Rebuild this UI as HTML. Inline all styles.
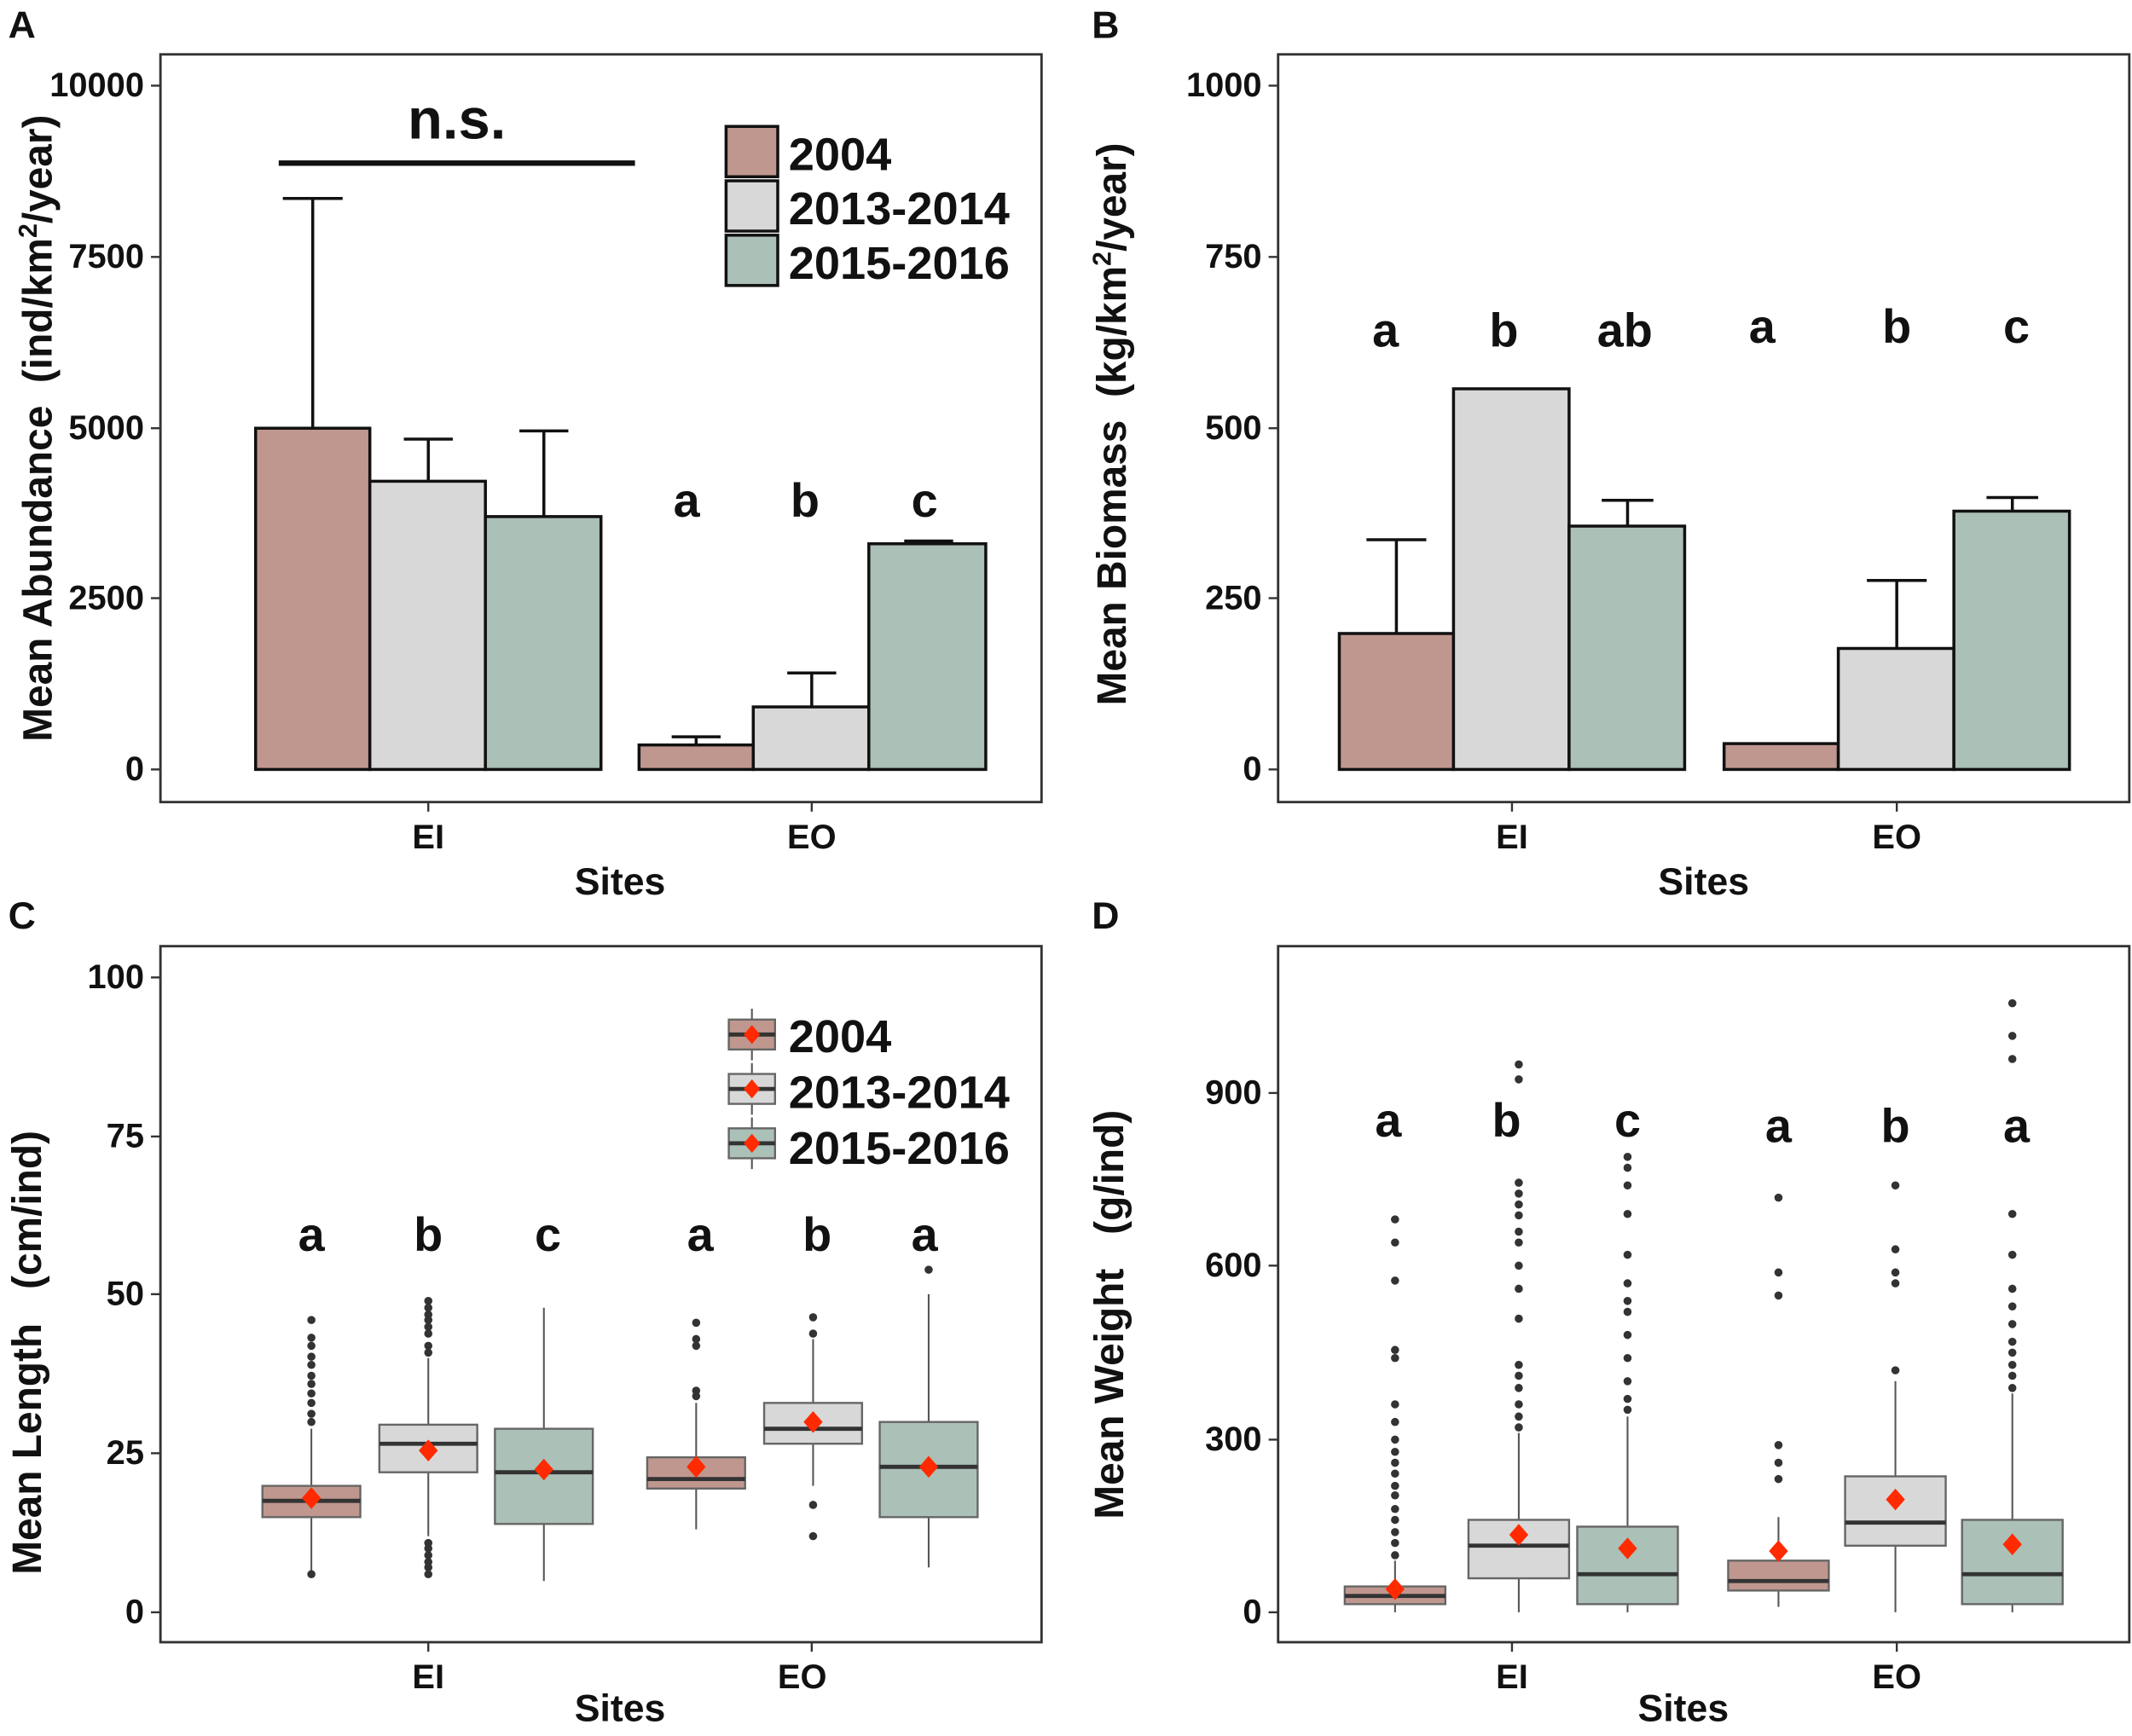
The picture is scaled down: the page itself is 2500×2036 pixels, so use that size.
<!DOCTYPE html>
<html><head><meta charset="utf-8"><style>
html,body{margin:0;padding:0;background:#fff}
svg{display:block}
text{font-family:"Liberation Sans",Arial,sans-serif;font-weight:bold;fill:#111;white-space:pre}
.tk{font-size:25px;font-family:"Liberation Sans Narrow","Liberation Sans",Arial,sans-serif}
.lt{font-size:35px}
.ax{font-size:30px}
.st{font-size:28px}
.lg{font-size:34px}
.frame{fill:none;stroke:#333;stroke-width:1.8}
.bar{stroke:#111;stroke-width:2.2}
.eb{stroke:#111;stroke-width:2.2;fill:none}
.bx{stroke:#666;stroke-width:1.5}
.md{stroke:#333;stroke-width:3}
.wh{stroke:#555;stroke-width:1.3}
.o{fill:#333}
.mn{fill:#ff2a00}
</style></head><body>
<svg width="2500" height="2036" viewBox="0 0 1568 1277" preserveAspectRatio="none" xmlns="http://www.w3.org/2000/svg" xml:space="preserve">
<rect width="1568" height="1277" fill="#fff"/>

<!-- ===== Panel A ===== -->
<text x="6" y="28" style="font-size:28px">A</text>
<rect class="frame" x="118" y="40" width="648" height="550"/>
<g stroke="#333" stroke-width="1.5">
<line x1="111" y1="566" x2="118" y2="566"/><line x1="111" y1="440" x2="118" y2="440"/>
<line x1="111" y1="315" x2="118" y2="315"/><line x1="111" y1="189" x2="118" y2="189"/>
<line x1="111" y1="63" x2="118" y2="63"/>
<line x1="315" y1="590" x2="315" y2="597"/><line x1="597" y1="590" x2="597" y2="597"/>
</g>
<g class="tk" text-anchor="end">
<text x="106" y="574">0</text><text x="106" y="448">2500</text><text x="106" y="323">5000</text>
<text x="106" y="197">7500</text><text x="106" y="71">10000</text>
</g>
<g class="tk" text-anchor="middle"><text x="315" y="624">EI</text><text x="597" y="624">EO</text></g>
<text class="st" x="456" y="658" text-anchor="middle">Sites</text>
<text class="ax" transform="translate(38,315) rotate(-90)" text-anchor="middle">Mean Abundance  (ind/km<tspan dy="-11" style="font-size:19px">2</tspan><tspan dy="11">/year)</tspan></text>
<g class="eb">
<path d="M230 315V146M208 146H252"/><path d="M315 354V323M297 323H333"/><path d="M400 380V317M382 317H418"/>
<path d="M512 548V542M494 542H530"/><path d="M597 520V495M579 495H615"/><path d="M683 400V398M665 398H701"/>
</g>
<rect class="bar" x="188" y="315" width="84" height="251" fill="#c0978f"/>
<rect class="bar" x="272" y="354" width="85" height="212" fill="#d8d8d8"/>
<rect class="bar" x="357" y="380" width="85" height="186" fill="#abc0b6"/>
<rect class="bar" x="470" y="548" width="84" height="18" fill="#c0978f"/>
<rect class="bar" x="554" y="520" width="85" height="46" fill="#d8d8d8"/>
<rect class="bar" x="639" y="400" width="86" height="166" fill="#abc0b6"/>
<line x1="205" y1="120" x2="467" y2="120" stroke="#111" stroke-width="4"/>
<text x="336" y="102" text-anchor="middle" style="font-size:42px">n.s.</text>
<g class="lt" text-anchor="middle"><text x="505" y="380">a</text><text x="592" y="380">b</text><text x="680" y="380">c</text></g>
<rect class="bar" x="534" y="93" width="38" height="37" fill="#c0978f"/>
<rect class="bar" x="534" y="133" width="38" height="37" fill="#d8d8d8"/>
<rect class="bar" x="534" y="173" width="38" height="37" fill="#abc0b6"/>
<g class="lg"><text x="580" y="125">2004</text><text x="580" y="165">2013-2014</text><text x="580" y="205">2015-2016</text></g>

<!-- ===== Panel B ===== -->
<text x="803" y="28" style="font-size:28px">B</text>
<rect class="frame" x="940" y="40" width="626" height="550"/>
<g stroke="#333" stroke-width="1.5">
<line x1="933" y1="566" x2="940" y2="566"/><line x1="933" y1="440" x2="940" y2="440"/>
<line x1="933" y1="315" x2="940" y2="315"/><line x1="933" y1="189" x2="940" y2="189"/>
<line x1="933" y1="63" x2="940" y2="63"/>
<line x1="1112" y1="590" x2="1112" y2="597"/><line x1="1395" y1="590" x2="1395" y2="597"/>
</g>
<g class="tk" text-anchor="end">
<text x="928" y="574">0</text><text x="928" y="448">250</text><text x="928" y="323">500</text>
<text x="928" y="197">750</text><text x="928" y="71">1000</text>
</g>
<g class="tk" text-anchor="middle"><text x="1112" y="624">EI</text><text x="1395" y="624">EO</text></g>
<text class="st" x="1253" y="658" text-anchor="middle">Sites</text>
<text class="ax" transform="translate(828,312) rotate(-90)" text-anchor="middle">Mean Biomass  (kg/km<tspan dy="-11" style="font-size:19px">2</tspan><tspan dy="11">/year)</tspan></text>
<g class="eb">
<path d="M1027 466V397M1005 397H1049"/><path d="M1197 387V368M1178 368H1216"/>
<path d="M1395 477V427M1373 427H1417"/><path d="M1480 376V366M1461 366H1499"/>
</g>
<rect class="bar" x="985" y="466" width="84" height="100" fill="#c0978f"/>
<rect class="bar" x="1069" y="286" width="85" height="280" fill="#d8d8d8"/>
<rect class="bar" x="1154" y="387" width="85" height="179" fill="#abc0b6"/>
<rect class="bar" x="1268" y="547" width="84" height="19" fill="#c0978f"/>
<rect class="bar" x="1352" y="477" width="85" height="89" fill="#d8d8d8"/>
<rect class="bar" x="1437" y="376" width="85" height="190" fill="#abc0b6"/>
<g class="lt" text-anchor="middle"><text x="1019" y="255">a</text><text x="1106" y="255">b</text><text x="1195" y="255">ab</text>
<text x="1296" y="252">a</text><text x="1395" y="252">b</text><text x="1483" y="252">c</text></g>

<!-- ===== Panel C ===== -->
<text x="6" y="683" style="font-size:28px">C</text>
<rect class="frame" x="118" y="696" width="648" height="512"/>
<g stroke="#333" stroke-width="1.5">
<line x1="111" y1="1186" x2="118" y2="1186"/><line x1="111" y1="1069" x2="118" y2="1069"/>
<line x1="111" y1="952" x2="118" y2="952"/><line x1="111" y1="836" x2="118" y2="836"/>
<line x1="111" y1="719" x2="118" y2="719"/>
<line x1="315" y1="1208" x2="315" y2="1215"/><line x1="597" y1="1208" x2="597" y2="1215"/>
</g>
<g class="tk" text-anchor="end">
<text x="106" y="1194">0</text><text x="106" y="1077">25</text><text x="106" y="960">50</text>
<text x="106" y="844">75</text><text x="106" y="727">100</text>
</g>
<g class="tk" text-anchor="middle"><text x="315" y="1242">EI</text><text x="590" y="1242">EO</text></g>
<text class="st" x="456" y="1266" text-anchor="middle">Sites</text>
<text class="ax" transform="translate(30,995) rotate(-90)" text-anchor="middle">Mean Length   (cm/ind)</text>
<g class="wh">
<line x1="229" y1="1158" x2="229" y2="1051"/><line x1="315" y1="1130" x2="315" y2="999"/>
<line x1="400" y1="1163" x2="400" y2="962"/><line x1="512" y1="1125" x2="512" y2="1032"/>
<line x1="598" y1="1093" x2="598" y2="985"/><line x1="683" y1="1153" x2="683" y2="952"/>
</g>
<rect class="bx" x="193" y="1093" width="72" height="23" fill="#c0978f"/>
<rect class="bx" x="279" y="1048" width="72" height="35" fill="#d8d8d8"/>
<rect class="bx" x="364" y="1051" width="72" height="70" fill="#abc0b6"/>
<rect class="bx" x="476" y="1072" width="72" height="23" fill="#c0978f"/>
<rect class="bx" x="562" y="1032" width="72" height="30" fill="#d8d8d8"/>
<rect class="bx" x="647" y="1046" width="72" height="70" fill="#abc0b6"/>
<g class="md">
<line x1="193" y1="1104" x2="265" y2="1104"/><line x1="279" y1="1062" x2="351" y2="1062"/>
<line x1="364" y1="1083" x2="436" y2="1083"/><line x1="476" y1="1088" x2="548" y2="1088"/>
<line x1="562" y1="1051" x2="634" y2="1051"/><line x1="647" y1="1079" x2="719" y2="1079"/>
</g>
<g class="o">
<circle cx="229" cy="1158" r="3"/><circle cx="229" cy="1046" r="3"/><circle cx="229" cy="1040" r="3"/><circle cx="229" cy="1032" r="3"/><circle cx="229" cy="1025" r="3"/><circle cx="229" cy="1018" r="3"/><circle cx="229" cy="1012" r="3"/><circle cx="229" cy="1004" r="3"/><circle cx="229" cy="998" r="3"/><circle cx="229" cy="990" r="3"/><circle cx="229" cy="984" r="3"/><circle cx="229" cy="971" r="3"/>
<circle cx="315" cy="1158" r="3"/><circle cx="315" cy="1153" r="3"/><circle cx="315" cy="1149" r="3"/><circle cx="315" cy="1144" r="3"/><circle cx="315" cy="1139" r="3"/><circle cx="315" cy="1135" r="3"/>
<circle cx="315" cy="995" r="3"/><circle cx="315" cy="990" r="3"/><circle cx="315" cy="981" r="3"/><circle cx="315" cy="976" r="3"/><circle cx="315" cy="971" r="3"/><circle cx="315" cy="967" r="3"/><circle cx="315" cy="962" r="3"/><circle cx="315" cy="957" r="3"/>
<circle cx="512" cy="1027" r="3"/><circle cx="512" cy="1023" r="3"/><circle cx="512" cy="990" r="3"/><circle cx="512" cy="985" r="3"/><circle cx="512" cy="973" r="3"/>
<circle cx="598" cy="1107" r="3"/><circle cx="598" cy="1130" r="3"/><circle cx="598" cy="981" r="3"/><circle cx="598" cy="969" r="3"/>
<circle cx="683" cy="934" r="3"/>
</g>
<g class="mn">
<path d="M229 1094l7 8-7 8-7-8z"/><path d="M315 1059l7 8-7 8-7-8z"/><path d="M400 1073l7 8-7 8-7-8z"/>
<path d="M512 1071l7 8-7 8-7-8z"/><path d="M598 1038l7 8-7 8-7-8z"/><path d="M683 1071l7 8-7 8-7-8z"/>
</g>
<g class="lt" text-anchor="middle"><text x="229" y="920">a</text><text x="315" y="920">b</text><text x="403" y="920">c</text>
<text x="515" y="920">a</text><text x="601" y="920">b</text><text x="680" y="920">a</text></g>
<g class="wh"><line x1="553" y1="742" x2="553" y2="780"/><line x1="553" y1="782" x2="553" y2="820"/><line x1="553" y1="822" x2="553" y2="860"/></g>
<rect class="bx" x="536" y="750" width="34" height="22" fill="#c0978f"/>
<rect class="bx" x="536" y="790" width="34" height="22" fill="#d8d8d8"/>
<rect class="bx" x="536" y="830" width="34" height="22" fill="#abc0b6"/>
<g class="md"><line x1="536" y1="761" x2="570" y2="761"/><line x1="536" y1="801" x2="570" y2="801"/><line x1="536" y1="841" x2="570" y2="841"/></g>
<g class="mn"><path d="M553 754l6 7-6 7-6-7z"/><path d="M553 794l6 7-6 7-6-7z"/><path d="M553 834l6 7-6 7-6-7z"/></g>
<g class="lg"><text x="580" y="774">2004</text><text x="580" y="815">2013-2014</text><text x="580" y="856">2015-2016</text></g>

<!-- ===== Panel D ===== -->
<text x="803" y="683" style="font-size:28px">D</text>
<rect class="frame" x="940" y="696" width="626" height="512"/>
<g stroke="#333" stroke-width="1.5">
<line x1="933" y1="1186" x2="940" y2="1186"/><line x1="933" y1="1059" x2="940" y2="1059"/>
<line x1="933" y1="931" x2="940" y2="931"/><line x1="933" y1="804" x2="940" y2="804"/>
<line x1="1112" y1="1208" x2="1112" y2="1215"/><line x1="1395" y1="1208" x2="1395" y2="1215"/>
</g>
<g class="tk" text-anchor="end">
<text x="928" y="1194">0</text><text x="928" y="1067">300</text><text x="928" y="939">600</text><text x="928" y="812">900</text>
</g>
<g class="tk" text-anchor="middle"><text x="1112" y="1242">EI</text><text x="1395" y="1242">EO</text></g>
<text class="st" x="1238" y="1266" text-anchor="middle">Sites</text>
<text class="ax" transform="translate(826,967) rotate(-90)" text-anchor="middle">Mean Weight   (g/ind)</text>
<g class="wh">
<line x1="1026" y1="1186" x2="1026" y2="1148"/><line x1="1117" y1="1186" x2="1117" y2="1054"/>
<line x1="1197" y1="1186" x2="1197" y2="1042"/><line x1="1308" y1="1182" x2="1308" y2="1116"/>
<line x1="1394" y1="1186" x2="1394" y2="1016"/><line x1="1480" y1="1186" x2="1480" y2="1025"/>
</g>
<rect class="bx" x="989" y="1167" width="74" height="13" fill="#c0978f"/>
<rect class="bx" x="1080" y="1118" width="74" height="43" fill="#d8d8d8"/>
<rect class="bx" x="1160" y="1123" width="74" height="57" fill="#abc0b6"/>
<rect class="bx" x="1271" y="1148" width="74" height="22" fill="#c0978f"/>
<rect class="bx" x="1357" y="1086" width="74" height="51" fill="#d8d8d8"/>
<rect class="bx" x="1443" y="1118" width="74" height="62" fill="#abc0b6"/>
<g class="md">
<line x1="989" y1="1174" x2="1063" y2="1174"/><line x1="1080" y1="1137" x2="1154" y2="1137"/>
<line x1="1160" y1="1158" x2="1234" y2="1158"/><line x1="1271" y1="1163" x2="1345" y2="1163"/>
<line x1="1357" y1="1120" x2="1431" y2="1120"/><line x1="1443" y1="1158" x2="1517" y2="1158"/>
</g>
<g class="o">
<circle cx="1026" cy="1144" r="3"/><circle cx="1026" cy="1135" r="3"/><circle cx="1026" cy="1127" r="3"/><circle cx="1026" cy="1118" r="3"/><circle cx="1026" cy="1110" r="3"/><circle cx="1026" cy="1100" r="3"/><circle cx="1026" cy="1093" r="3"/><circle cx="1026" cy="1084" r="3"/><circle cx="1026" cy="1076" r="3"/><circle cx="1026" cy="1068" r="3"/><circle cx="1026" cy="1059" r="3"/><circle cx="1026" cy="1046" r="3"/><circle cx="1026" cy="1033" r="3"/><circle cx="1026" cy="999" r="3"/><circle cx="1026" cy="993" r="3"/><circle cx="1026" cy="942" r="3"/><circle cx="1026" cy="914" r="3"/><circle cx="1026" cy="897" r="3"/>
<circle cx="1117" cy="1050" r="3"/><circle cx="1117" cy="1042" r="3"/><circle cx="1117" cy="1033" r="3"/><circle cx="1117" cy="1021" r="3"/><circle cx="1117" cy="1012" r="3"/><circle cx="1117" cy="1004" r="3"/><circle cx="1117" cy="970" r="3"/><circle cx="1117" cy="948" r="3"/><circle cx="1117" cy="931" r="3"/><circle cx="1117" cy="914" r="3"/><circle cx="1117" cy="906" r="3"/><circle cx="1117" cy="894" r="3"/><circle cx="1117" cy="886" r="3"/><circle cx="1117" cy="878" r="3"/><circle cx="1117" cy="870" r="3"/><circle cx="1117" cy="794" r="3"/><circle cx="1117" cy="783" r="3"/>
<circle cx="1197" cy="1037" r="3"/><circle cx="1197" cy="1029" r="3"/><circle cx="1197" cy="1016" r="3"/><circle cx="1197" cy="999" r="3"/><circle cx="1197" cy="982" r="3"/><circle cx="1197" cy="965" r="3"/><circle cx="1197" cy="957" r="3"/><circle cx="1197" cy="944" r="3"/><circle cx="1197" cy="923" r="3"/><circle cx="1197" cy="893" r="3"/><circle cx="1197" cy="872" r="3"/><circle cx="1197" cy="859" r="3"/><circle cx="1197" cy="851" r="3"/>
<circle cx="1308" cy="1088" r="3"/><circle cx="1308" cy="1076" r="3"/><circle cx="1308" cy="1063" r="3"/><circle cx="1308" cy="953" r="3"/><circle cx="1308" cy="936" r="3"/><circle cx="1308" cy="881" r="3"/>
<circle cx="1394" cy="1008" r="3"/><circle cx="1394" cy="944" r="3"/><circle cx="1394" cy="936" r="3"/><circle cx="1394" cy="919" r="3"/><circle cx="1394" cy="872" r="3"/>
<circle cx="1480" cy="1021" r="3"/><circle cx="1480" cy="1012" r="3"/><circle cx="1480" cy="1004" r="3"/><circle cx="1480" cy="995" r="3"/><circle cx="1480" cy="987" r="3"/><circle cx="1480" cy="974" r="3"/><circle cx="1480" cy="961" r="3"/><circle cx="1480" cy="948" r="3"/><circle cx="1480" cy="923" r="3"/><circle cx="1480" cy="893" r="3"/><circle cx="1480" cy="779" r="3"/><circle cx="1480" cy="762" r="3"/><circle cx="1480" cy="738" r="3"/>
</g>
<g class="mn">
<path d="M1026 1161l7 8-7 8-7-8z"/><path d="M1117 1121l7 8-7 8-7-8z"/><path d="M1197 1131l7 8-7 8-7-8z"/>
<path d="M1308 1133l7 8-7 8-7-8z"/><path d="M1394 1095l7 8-7 8-7-8z"/><path d="M1480 1128l7 8-7 8-7-8z"/>
</g>
<g class="lt" text-anchor="middle"><text x="1021" y="836">a</text><text x="1108" y="836">b</text><text x="1197" y="836">c</text>
<text x="1308" y="840">a</text><text x="1394" y="840">b</text><text x="1483" y="840">a</text></g>
</svg>
</body></html>
